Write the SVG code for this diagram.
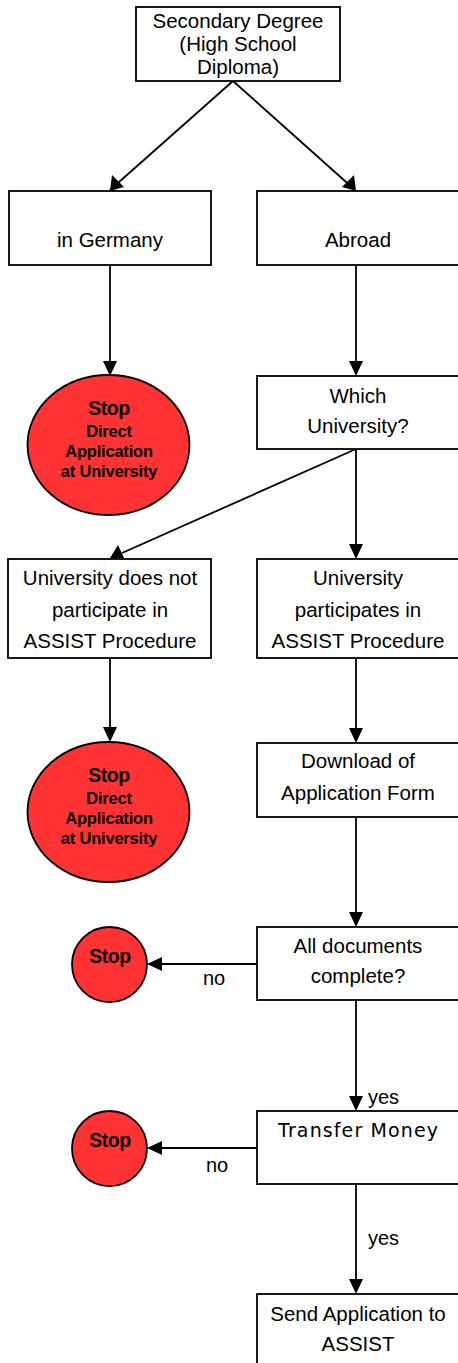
<svg xmlns="http://www.w3.org/2000/svg" width="458" height="1363" viewBox="0 0 458 1363">
<style>
.box{fill:#fff;stroke:#000;stroke-width:1.8}
.stop{fill:#ff3333;stroke:#000;stroke-width:1.8}
.t{font-family:"Liberation Sans",Arial,sans-serif;font-size:20.5px;fill:#000;text-anchor:middle}
.sb{font-family:"Liberation Sans",Arial,sans-serif;font-weight:bold;font-size:19.5px;fill:#000;text-anchor:middle;letter-spacing:-0.5px}
.ss{font-family:"Liberation Sans",Arial,sans-serif;font-weight:bold;font-size:16.5px;fill:#000;text-anchor:middle;letter-spacing:-0.2px}
.lbl{font-family:"Liberation Sans",Arial,sans-serif;font-size:20px;fill:#000}
.c{fill:none;stroke:#000;stroke-width:1.8}
</style>
<g id="connectors">
<path class="c" d="M233,81 L110,190"/>
<polygon points="110,191 112,175 124,187" fill="#000"/>
<path class="c" d="M233,81 L355,190"/>
<polygon points="356,191 342,187 354,175" fill="#000"/>
<path class="c" d="M110,265 L110,362"/>
<polygon points="103,361 117,361 110,376" fill="#000"/>
<path class="c" d="M356,265 L356,362"/>
<polygon points="349,361 363,361 356,376" fill="#000"/>
<path class="c" d="M356,449 L122,553"/>
<polygon points="110,558 118,545 124,558" fill="#000"/>
<path class="c" d="M356,449 L356,545"/>
<polygon points="349,544 363,544 356,559" fill="#000"/>
<path class="c" d="M110,658 L110,728"/>
<polygon points="103,727 117,727 110,742" fill="#000"/>
<path class="c" d="M356,658 L356,729"/>
<polygon points="349,728 363,728 356,743" fill="#000"/>
<path class="c" d="M356,817 L356,913"/>
<polygon points="349,912 363,912 356,927" fill="#000"/>
<path class="c" d="M257,964 L160,964"/>
<polygon points="162,957 162,971 147,964" fill="#000"/>
<path class="c" d="M356,1000 L356,1097"/>
<polygon points="349,1096 363,1096 356,1111" fill="#000"/>
<path class="c" d="M257,1148 L160,1148"/>
<polygon points="162,1141 162,1155 147,1148" fill="#000"/>
<path class="c" d="M356,1184 L356,1280"/>
<polygon points="349,1279 363,1279 356,1294" fill="#000"/>
<text class="lbl" x="203" y="985">no</text>
<text class="lbl" x="368" y="1104">yes</text>
<text class="lbl" x="206" y="1172">no</text>
<text class="lbl" x="368" y="1245">yes</text>
</g>
<g id="secondary">
<rect class="box" x="136" y="7" width="204" height="74"/>
<text class="t" x="238" y="28">Secondary Degree</text>
<text class="t" x="238" y="51">(High School</text>
<text class="t" x="238" y="74">Diploma)</text>
</g>
<g id="germany">
<rect class="box" x="9" y="191" width="202" height="74"/>
<text class="t" x="110" y="247">in Germany</text>
</g>
<g id="abroad">
<rect class="box" x="257" y="191" width="205" height="74"/>
<text class="t" x="358" y="247">Abroad</text>
</g>
<g id="stop1">
<ellipse class="stop" cx="108.5" cy="445" rx="81" ry="70"/>
<text class="sb" x="109" y="415">Stop</text>
<text class="ss" x="109" y="437">Direct</text>
<text class="ss" x="109" y="457">Application</text>
<text class="ss" x="109" y="477">at University</text>
</g>
<g id="which">
<rect class="box" x="257" y="376" width="205" height="73"/>
<text class="t" x="358" y="403">Which</text>
<text class="t" x="358" y="433">University?</text>
</g>
<g id="notparticipate">
<rect class="box" x="8" y="559" width="203" height="99"/>
<text class="t" x="110" y="585">University does not</text>
<text class="t" x="110" y="617">participate in</text>
<text class="t" x="110" y="648">ASSIST Procedure</text>
</g>
<g id="participates">
<rect class="box" x="257" y="559" width="205" height="99"/>
<text class="t" x="358" y="585">University</text>
<text class="t" x="358" y="617">participates in</text>
<text class="t" x="358" y="648">ASSIST Procedure</text>
</g>
<g id="stop2">
<ellipse class="stop" cx="108.5" cy="812" rx="81" ry="70"/>
<text class="sb" x="109" y="782">Stop</text>
<text class="ss" x="109" y="804">Direct</text>
<text class="ss" x="109" y="824">Application</text>
<text class="ss" x="109" y="844">at University</text>
</g>
<g id="download">
<rect class="box" x="257" y="743" width="205" height="74"/>
<text class="t" x="358" y="768">Download of</text>
<text class="t" x="358" y="800">Application Form</text>
</g>
<g id="documents">
<rect class="box" x="257" y="927" width="205" height="73"/>
<text class="t" x="358" y="953">All documents</text>
<text class="t" x="358" y="983">complete?</text>
</g>
<g id="stop3">
<circle class="stop" cx="109.5" cy="964.5" r="37.5"/>
<text class="sb" x="110" y="963">Stop</text>
</g>
<g id="transfer">
<rect class="box" x="257" y="1111" width="205" height="73"/>
<text x="358" y="1137" style="font-family:'DejaVu Sans',Verdana,sans-serif;font-size:19px;text-anchor:middle" textLength="160" lengthAdjust="spacing">Transfer Money</text>
</g>
<g id="stop4">
<circle class="stop" cx="109.5" cy="1148.5" r="37.5"/>
<text class="sb" x="110" y="1147">Stop</text>
</g>
<g id="send">
<rect class="box" x="257" y="1294" width="205" height="80"/>
<text class="t" x="358" y="1321">Send Application to</text>
<text class="t" x="358" y="1351">ASSIST</text>
</g>
</svg>
